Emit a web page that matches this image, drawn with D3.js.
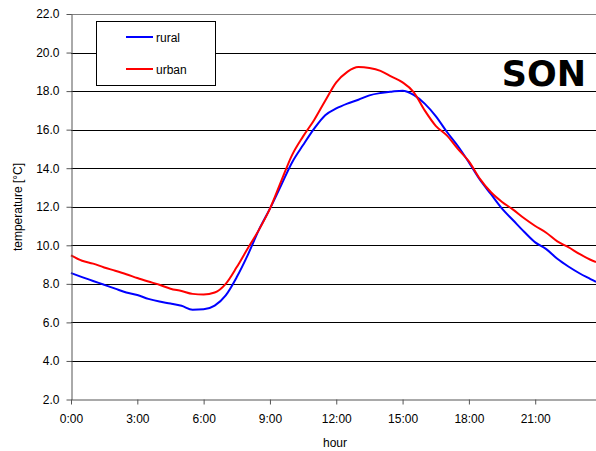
<!DOCTYPE html>
<html>
<head>
<meta charset="utf-8">
<script src="https://cdn.jsdelivr.net/npm/d3@7"></script>
<style>
  body { margin: 0; background: #fff; }
  svg text { font-family: "Liberation Sans", Arial, sans-serif; fill: #000; }
</style>
</head>
<body>
<svg id="chart" width="596" height="451"></svg>
<script>
// time of day (hours) for each reading
const hours = [0, 0.5, 1, 1.5, 2, 2.5, 3, 3.5, 4, 4.5, 5, 5.5, 6, 6.5, 7, 7.5, 8, 8.5,
  9, 9.5, 10, 10.5, 11, 11.5, 12, 12.5, 13, 13.5, 14, 14.5, 15, 15.5, 16, 16.5,
  17, 17.5, 18, 18.5, 19, 19.5, 20, 20.5, 21, 21.5, 22, 22.5, 23, 23.5, 23.75];

const rural = [8.56, 8.35, 8.15, 7.95, 7.75, 7.55, 7.42, 7.22, 7.08, 6.98, 6.86, 6.66,
  6.68, 6.87, 7.4, 8.35, 9.5, 10.8, 11.9, 13.1, 14.3, 15.2, 16.05, 16.75, 17.1,
  17.35, 17.55, 17.78, 17.9, 17.97, 18.02, 17.8, 17.35, 16.7, 15.89, 15.15, 14.3,
  13.4, 12.65, 11.9, 11.3, 10.7, 10.15, 9.8, 9.3, 8.9, 8.55, 8.25, 8.1];

const urban = [9.48, 9.2, 9.05, 8.85, 8.68, 8.5, 8.3, 8.12, 7.95, 7.75, 7.63, 7.48,
  7.45, 7.55, 8.0, 8.87, 9.85, 10.8, 11.9, 13.3, 14.68, 15.65, 16.5, 17.5, 18.45,
  19.0, 19.25, 19.2, 19.05, 18.75, 18.45, 17.95, 17.0, 16.2, 15.7, 15.0, 14.35,
  13.45, 12.75, 12.25, 11.85, 11.4, 11.0, 10.65, 10.2, 9.9, 9.55, 9.25, 9.13];

const xTicks = [0, 3, 6, 9, 12, 15, 18, 21];
const yTicks = [2, 4, 6, 8, 10, 12, 14, 16, 18, 20, 22];

const seriesNames = ['rural', 'urban'];
const seriesColors = ['#0000ff', '#ff0000'];

let svg = d3.select('#chart');

let x = d3.scaleLinear().domain([0, 23.75]).range([71, 596]);
let y = d3.scaleLinear().domain([2, 22]).range([399.5, 14]);

// horizontal gridlines
svg.append('g')
  .selectAll('line')
  .data(yTicks.filter((d) => d > 2))
  .join('line')
    .attr('x1', 71).attr('x2', 596)
    .attr('y1', (d) => Math.round(y(d)) + 0.5)
    .attr('y2', (d) => Math.round(y(d)) + 0.5)
    .attr('stroke', (d) => d === 22 ? '#808080' : '#000')
    .attr('stroke-width', 1);

// lines
let line = d3.line()
  .x((d, i) => x(hours[i]))
  .y((d) => y(d))
  .curve(d3.curveMonotoneX);

[rural, urban].forEach((vals, i) => {
  svg.append('path')
    .datum(vals)
    .attr('fill', 'none')
    .attr('stroke', seriesColors[i])
    .attr('stroke-width', 2)
    .attr('d', line);
});

// axes
let yAxis = d3.axisLeft(y).tickValues(yTicks).tickSize(5).tickSizeOuter(0)
  .tickFormat(d3.format('.1f'));
let gy = svg.append('g').attr('transform', 'translate(71.5,0)').call(yAxis);
gy.select('.domain').attr('stroke', '#555');
gy.selectAll('.tick line').attr('stroke', '#555');
gy.selectAll('.tick text')
  .attr('x', -12)
  .style('font-size', '12px')
  .style('font-family', '"Liberation Sans", Arial, sans-serif')
  .attr('fill', '#000');

let xAxis = d3.axisBottom(x).tickValues(xTicks).tickSize(5).tickSizeOuter(0)
  .tickFormat((d) => d + ':00');
let gx = svg.append('g').attr('transform', 'translate(0,399.5)').call(xAxis);
gx.select('.domain').attr('stroke', '#555');
gx.selectAll('.tick line').attr('stroke', '#555');
gx.selectAll('.tick text')
  .attr('y', 15)
  .style('font-size', '12px')
  .style('font-family', '"Liberation Sans", Arial, sans-serif')
  .attr('fill', '#000');

// axis titles
svg.append('text')
  .attr('x', 335).attr('y', 447)
  .attr('text-anchor', 'middle')
  .style('font-size', '12px')
  .text('hour');

svg.append('text')
  .attr('transform', 'translate(22,207) rotate(-90)')
  .attr('text-anchor', 'middle')
  .style('font-size', '12px')
  .text('temperature [°C]');

// legend
let legend = svg.append('g');
legend.append('rect')
  .attr('x', 96.5).attr('y', 21.5)
  .attr('width', 119).attr('height', 64)
  .attr('fill', '#fff')
  .attr('stroke', '#000');

seriesNames.forEach((name, i) => {
  let ly = 37 + i * 32;
  legend.append('line')
    .attr('x1', 126).attr('x2', 153)
    .attr('y1', ly).attr('y2', ly)
    .attr('stroke', seriesColors[i])
    .attr('stroke-width', 2);
  legend.append('text')
    .attr('x', 156).attr('y', ly + 4.5)
    .style('font-size', '12px')
    .text(name);
});

// season label
svg.append('text')
  .attr('x', 586).attr('y', 86)
  .attr('text-anchor', 'end')
  .style('font-family', '"DejaVu Sans", sans-serif')
  .style('font-weight', 'bold')
  .style('font-size', '35px')
  .text('SON');
</script>
</body>
</html>
